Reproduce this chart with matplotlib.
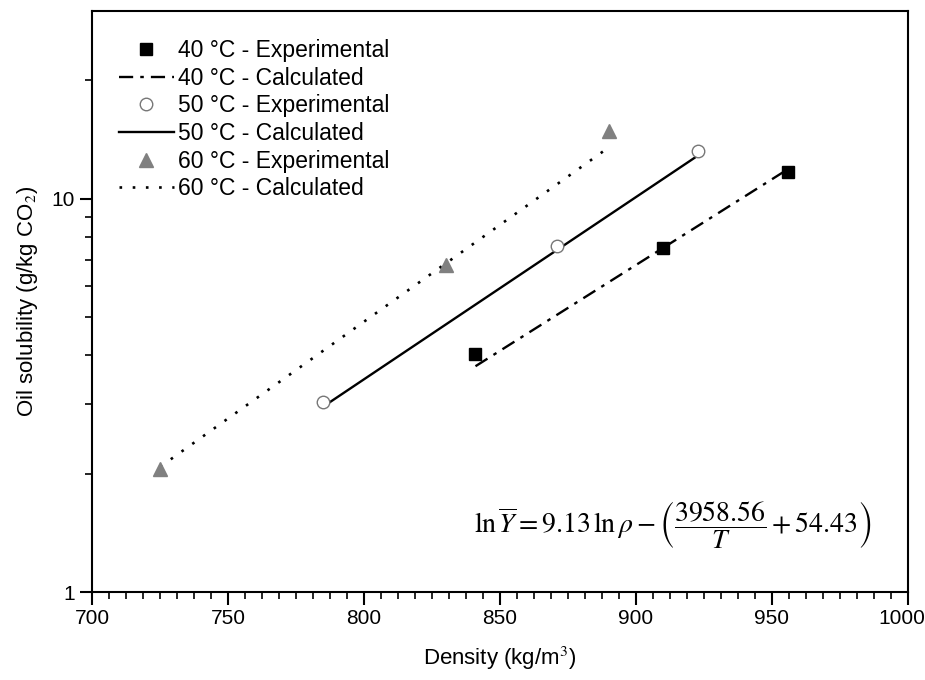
import matplotlib
matplotlib.use("Agg")
import matplotlib.pyplot as plt
from matplotlib.ticker import FixedLocator, MultipleLocator, NullFormatter
from matplotlib.transforms import ScaledTranslation
import numpy as np

plt.rcParams['font.family'] = ['Liberation Sans', 'DejaVu Sans']
plt.rcParams['mathtext.fontset'] = 'stix'

# Experimental data (density kg/m3, solubility g/kg CO2)
rho_40 = [841, 910, 956]
y_40 = [4.02, 7.5, 11.7]
rho_50 = [785, 871, 923]
y_50 = [3.05, 7.6, 13.2]
rho_60 = [725, 830, 890]
y_60 = [2.05, 6.8, 14.9]

# Calculated lines (endpoints)
rho_40c = [841, 956]
y_40c = [3.75, 11.9]
rho_50c = [785, 923]
y_50c = [2.96, 12.9]
rho_60c = [725, 890]
y_60c = [2.08, 13.5]

x_ticks = [700, 750, 800, 850, 900, 950, 1000]

fig = plt.figure(figsize=(9.25, 6.8), dpi=100)
ax = fig.add_axes([0.0995, 0.1294, 0.882, 0.8544])

ms = 8
ax.plot(rho_40, y_40, 's', color='black', ms=ms, label='40 °C - Experimental', zorder=3)
ax.plot(rho_40c, y_40c, color='black', lw=1.7, ls=(0, (6, 3, 1.5, 3)), label='40 °C - Calculated')
ax.plot(rho_50, y_50, 'o', mfc='white', mec='#777777', mew=1.0, ms=ms + 1, label='50 °C - Experimental', zorder=3)
ax.plot(rho_50c, y_50c, color='black', lw=1.7, ls='-', label='50 °C - Calculated')
ax.plot(rho_60, y_60, '^', color='#808080', ms=ms + 2, label='60 °C - Experimental', zorder=3)
ax.plot(rho_60c, y_60c, color='black', lw=1.9, ls=(0, (1, 4)), label='60 °C - Calculated')

ax.set_yscale('log')
ax.set_xlim(700, 1000)
ax.set_ylim(1, 30)
ax.set_xticks(x_ticks)
ax.xaxis.set_minor_locator(MultipleLocator(6.25))
ax.yaxis.set_major_locator(FixedLocator([1, 10]))
ax.set_yticklabels(['1', '10'])
ax.yaxis.set_minor_locator(FixedLocator([2, 3, 4, 5, 6, 7, 8, 9, 20]))
ax.yaxis.set_minor_formatter(NullFormatter())

ax.tick_params(axis='both', which='major', direction='out', length=9, width=1.5, labelsize=15)
ax.tick_params(axis='both', which='minor', direction='out', length=5, width=1.2)
for s in ax.spines.values():
    s.set_linewidth(1.5)

# nudge the last x tick label so it stays inside the figure
lbl = ax.get_xticklabels()[-1]
lbl.set_transform(lbl.get_transform() + ScaledTranslation(-6 / 100, 0, fig.dpi_scale_trans))

ax.set_xlabel('Density (kg/m$^3$)', fontsize=16, labelpad=12)
ax.set_ylabel('Oil solubility (g/kg CO$_2$)', fontsize=16, labelpad=8)

leg = ax.legend(loc='upper left', bbox_to_anchor=(0.016, 0.975), frameon=False, fontsize=16.5,
                handlelength=2.4, handletextpad=0.2, labelspacing=0.2, borderaxespad=0.2)

ax.text(0.955, 0.115,
        r'$\mathrm{ln}\,\overline{Y} = 9.13\,\mathrm{ln}\,\rho - \left(\dfrac{3958.56}{T} + 54.43\right)$',
        transform=ax.transAxes, ha='right', va='center', fontsize=20)

fig.savefig('out.png', dpi=100)
